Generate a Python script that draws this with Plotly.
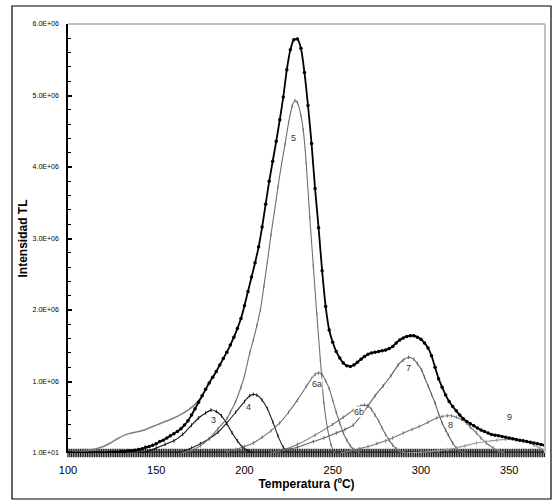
import plotly.graph_objects as go

# ---------------- data (intensity in units of 1e6) ----------------
total_T = list(range(100, 372, 2))
total_I = [0, 0, 0, 0, 0, 0, 0, 0, 0, 0, 0, 0, 0.01, 0.01, 0.01, 0.02, 0.02, 0.03, 0.03, 0.04,
           0.05, 0.06, 0.08, 0.09, 0.11, 0.13, 0.16, 0.18, 0.21, 0.24, 0.27, 0.30, 0.34, 0.39, 0.45,
           0.53, 0.62, 0.71, 0.80, 0.89, 0.98, 1.06, 1.14, 1.23, 1.32, 1.41, 1.51, 1.62, 1.74, 1.88,
           2.06, 2.26, 2.46, 2.66, 2.88, 3.16, 3.48, 3.80, 4.08, 4.36, 4.66, 4.98, 5.36, 5.64, 5.78,
           5.79, 5.66, 5.32, 4.86, 4.33, 3.70, 3.15, 2.55, 2.05, 1.72, 1.55, 1.42, 1.33, 1.26, 1.22,
           1.21, 1.23, 1.27, 1.31, 1.35, 1.38, 1.40, 1.41, 1.42, 1.43, 1.44, 1.46, 1.49, 1.54, 1.58,
           1.61, 1.63, 1.64, 1.64, 1.62, 1.59, 1.54, 1.47, 1.36, 1.20, 1.04, 0.92, 0.81, 0.72, 0.65,
           0.59, 0.53, 0.48, 0.44, 0.41, 0.38, 0.35, 0.32, 0.30, 0.28, 0.26, 0.25, 0.24, 0.23, 0.22,
           0.21, 0.20, 0.19, 0.18, 0.17, 0.16, 0.15, 0.14, 0.13, 0.12, 0.11]

exp_T = [100, 104, 108, 112, 116, 120, 124, 128, 132, 136, 140, 144, 148, 152, 156, 160, 164, 168, 172, 176]
exp_I = [0, 0.01, 0.02, 0.04, 0.06, 0.09, 0.14, 0.20, 0.25, 0.28, 0.30, 0.33, 0.37, 0.41, 0.45, 0.49,
         0.54, 0.60, 0.68, 0.79]

p3_T = [140, 145, 150, 155, 160, 165, 170, 174, 178, 181, 184, 187, 190, 193, 196, 199, 202, 205]
p3_I = [0, 0.02, 0.07, 0.12, 0.17, 0.26, 0.39, 0.49, 0.56, 0.60, 0.58, 0.52, 0.41, 0.28, 0.17, 0.08, 0.03, 0]

p4_T = [160, 165, 170, 175, 180, 185, 190, 195, 200, 203, 205, 207, 210, 213, 216, 219, 222, 225]
p4_I = [0, 0.02, 0.07, 0.13, 0.20, 0.29, 0.42, 0.57, 0.72, 0.80, 0.82, 0.81, 0.74, 0.62, 0.44, 0.24, 0.08, 0]

p5_T = [165, 170, 175, 180, 185, 190, 192, 195, 198, 200, 203, 205, 207, 209, 211, 213, 215, 217,
        219, 221, 223, 225, 227, 228.6, 230, 232, 233.3, 235, 237, 239, 241, 243, 245, 247, 249, 251]
p5_I = [0, 0.04, 0.10, 0.20, 0.34, 0.48, 0.57, 0.72, 0.92, 1.08, 1.40, 1.58, 1.78, 2.00, 2.33, 2.68,
        3.05, 3.38, 3.72, 4.04, 4.32, 4.62, 4.85, 4.93, 4.90, 4.72, 4.52, 4.05, 3.30, 2.62, 1.94, 1.30,
        0.70, 0.35, 0.12, 0]

p6a_T = [190, 195, 200, 205, 210, 215, 220, 225, 230, 235, 238, 240, 242, 244, 246, 248, 250, 252,
         254, 256, 258, 260, 262, 265]
p6a_I = [0.02, 0.05, 0.09, 0.14, 0.22, 0.31, 0.42, 0.57, 0.74, 0.93, 1.04, 1.10, 1.12, 1.10, 1.01,
         0.90, 0.74, 0.57, 0.42, 0.28, 0.18, 0.10, 0.05, 0]

p6b_T = [215, 220, 230, 240, 250, 256, 261.6, 264, 266, 268, 270, 272, 274, 276, 278, 280, 282, 284,
         286, 288, 290]
p6b_I = [0, 0.03, 0.12, 0.25, 0.40, 0.50, 0.60, 0.64, 0.66, 0.67, 0.66, 0.61, 0.53, 0.45, 0.35, 0.26,
         0.18, 0.11, 0.06, 0.03, 0]

p7_T = [215, 220, 230, 239, 245, 252, 257, 261.6, 266, 270, 274, 278.6, 283, 287, 290, 293, 296, 298,
        300.4, 302, 304.2, 306, 308, 310, 312, 314, 315.5, 318, 320, 322, 325]
p7_I = [0, 0.03, 0.08, 0.16, 0.21, 0.28, 0.33, 0.39, 0.52, 0.66, 0.80, 0.94, 1.08, 1.23, 1.30, 1.34,
        1.31, 1.25, 1.16, 1.06, 0.93, 0.82, 0.70, 0.55, 0.42, 0.32, 0.25, 0.14, 0.07, 0.03, 0]

p8_T = [255, 260, 265, 270, 275, 280, 284, 290, 295, 299, 304, 309, 312, 315, 317.4, 320, 323, 325.8,
        328, 331.5, 334, 337, 341, 344, 347]
p8_I = [0, 0.03, 0.06, 0.09, 0.13, 0.17, 0.21, 0.28, 0.33, 0.37, 0.43, 0.49, 0.51, 0.52, 0.52, 0.50,
        0.47, 0.42, 0.36, 0.28, 0.21, 0.14, 0.07, 0.03, 0]

p9_T = [290, 300, 310, 315, 320, 325, 331.5, 337, 343, 348, 354, 358, 361.7, 364, 367.4, 370]
p9_I = [0, 0.01, 0.03, 0.05, 0.07, 0.10, 0.14, 0.16, 0.18, 0.19, 0.18, 0.16, 0.14, 0.11, 0.07, 0.04]

base_T = list(range(100, 371, 1))
base_I = [0] * len(base_T)

labels = ["3", "4", "5", "6a", "6b", "7", "8", "9"]
label_T = [182.4, 202.0, 227.6, 240.9, 265.0, 292.8, 316.7, 350.4]
label_I = [0.46, 0.64, 4.40, 0.97, 0.57, 1.19, 0.39, 0.50]

y_tickvals = [10, 1e6, 2e6, 3e6, 4e6, 5e6, 6e6]
y_ticktext = ["1.0E+01", "1.0E+06", "2.0E+06", "3.0E+06", "4.0E+06", "5.0E+06", "6.0E+06"]
x_tickvals = [100, 150, 200, 250, 300, 350]

S = 1e6


def sc(v):
    return [a * S for a in v]


fig = go.Figure()

# dense baseline of overlapping markers
fig.add_trace(go.Scatter(x=base_T, y=base_I, mode="lines+markers", cliponaxis=False,
                         line=dict(color="#555555", width=3.5),
                         marker=dict(symbol="line-ns-open", size=6, color="#222222",
                                     line=dict(width=1.3, color="#222222")),
                         showlegend=False, hoverinfo="skip"))

comp = [
    (p3_T, p3_I, "#111111", "3"),
    (p4_T, p4_I, "#222222", "4"),
    (p5_T, p5_I, "#707070", "5"),
    (p6a_T, p6a_I, "#707070", "6a"),
    (p6b_T, p6b_I, "#707070", "6b"),
    (p7_T, p7_I, "#606060", "7"),
    (p8_T, p8_I, "#777777", "8"),
    (p9_T, p9_I, "#999999", "9"),
]
for T, I, c, n in comp:
    fig.add_trace(go.Scatter(x=T, y=sc(I), mode="lines+markers", name=n,
                             line=dict(color=c, width=1.1, shape="spline", smoothing=0.6),
                             marker=dict(symbol="line-ns-open", size=2.5,
                                         line=dict(width=1, color=c)),
                             showlegend=False))

fig.add_trace(go.Scatter(x=exp_T, y=sc(exp_I), mode="lines", name="exp",
                         line=dict(color="#808080", width=1.6, shape="spline", smoothing=0.6),
                         showlegend=False))

fig.add_trace(go.Scatter(x=total_T, y=sc(total_I), mode="lines+markers", name="total",
                         line=dict(color="#000000", width=1.8, shape="spline", smoothing=0.6),
                         marker=dict(symbol="circle", size=3.5, color="#000000"),
                         showlegend=False))

for t, x, y in zip(labels, label_T, label_I):
    fig.add_annotation(x=x, y=y * S, text=t, showarrow=False,
                       font=dict(family="Liberation Sans, Arial", size=9, color="#333333"),
                       bgcolor="white", borderpad=0)

# plot frame (gray top/right) and outer chart border
fig.add_shape(type="line", xref="paper", yref="paper", x0=0, x1=1, y0=1, y1=1,
              line=dict(color="#c0c0c0", width=2))
fig.add_shape(type="line", xref="paper", yref="paper", x0=1, x1=1, y0=0, y1=1,
              line=dict(color="#c0c0c0", width=2))
fig.add_shape(type="rect", xref="paper", yref="paper",
              x0=-56 / 477, x1=(551 - 68) / 477, y0=-(499 - 453) / 429, y1=(453 - 6) / 429,
              line=dict(color="#000000", width=1.2), layer="below")

fig.update_layout(
    width=558, height=502,
    margin=dict(l=68, r=13, t=24, b=49),
    paper_bgcolor="white", plot_bgcolor="white",
    font=dict(family="Liberation Sans, Arial", color="#000000"),
    xaxis=dict(range=[100, 370.3], tickvals=x_tickvals, ticks="", showline=False,
               showgrid=False, zeroline=False, tickfont=dict(size=11),
               ticklabelstandoff=9,
               title=dict(text="<b>Temperatura (ºC)</b>", font=dict(size=12), standoff=4)),
    yaxis=dict(range=[0, 6e6], tickvals=y_tickvals, ticktext=y_ticktext, ticks="inside",
               ticklen=4, tickwidth=1.5, tickcolor="#000000", showline=True,
               linecolor="#000000", linewidth=1.5, showgrid=False, zeroline=False,
               tickfont=dict(size=7), ticklabelstandoff=6,
               minor=dict(dtick=2e5, ticks="inside", ticklen=3, tickcolor="#000000", tickwidth=1),
               title=dict(text="<b>Intensidad TL</b>", font=dict(size=12), standoff=2)),
)

fig.write_html("out.html")
